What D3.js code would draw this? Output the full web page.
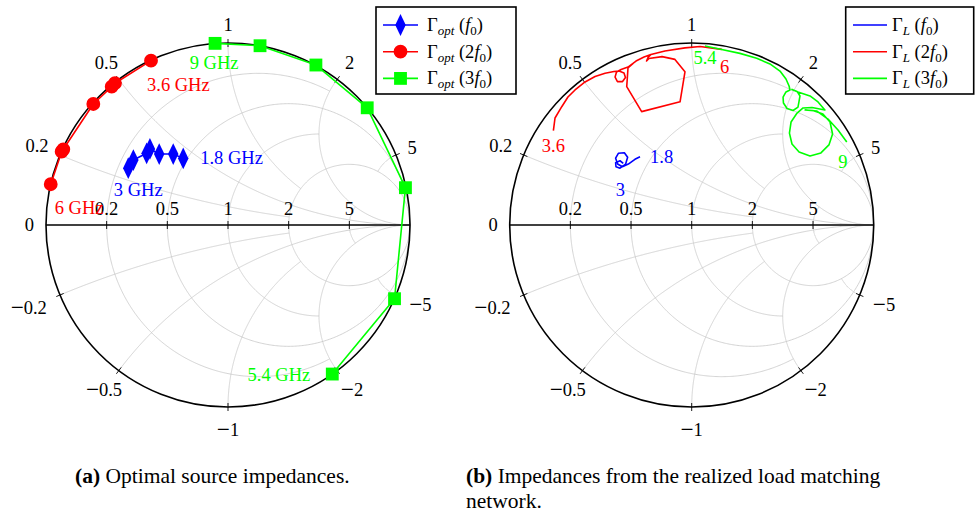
<!DOCTYPE html>
<html><head><meta charset="utf-8">
<script src="https://cdn.jsdelivr.net/npm/d3@7"></script>
<style>body{margin:0;background:#fff}svg{display:block}</style>
</head><body>
<svg id="c" width="977" height="512"></svg>
<script>
// ---------- grid definition ----------
const rTicks = [0.2, 0.5, 1, 2, 5];
const rTickLimit = [2, null, 2, null, 2];      // |x| where each r-circle stops (null = through infinity)
const xTicks = [0.2, 0.5, 1, 2, 5];
const xTickLimit = [2, null, 2, null, 2];      // r where each x-arc stops
const xTickLabels = ["0.2", "0.5", "1", "2", "5"];

// ---------- data (a) : reflection coefficients [re, im] ----------
const freqF0 = [1.8, 2.0, 2.2, 2.4, 2.6, 2.8, 3.0];
const gammaOptF0 = [[-0.246,0.366],[-0.301,0.390],[-0.378,0.390],[-0.429,0.418],[-0.447,0.394],[-0.520,0.357],[-0.548,0.312]];
const freq2F0 = [3.6, 4.0, 4.4, 4.8, 5.2, 5.6, 6.0];
const gammaOpt2F0 = [[-0.423,0.903],[-0.621,0.779],[-0.639,0.760],[-0.740,0.665],[-0.905,0.416],[-0.914,0.403],[-0.974,0.224]];
const freq3F0 = [5.4, 6.0, 6.6, 7.2, 7.8, 8.4, 9.0];
const gammaOpt3F0 = [[0.573,-0.819],[0.915,-0.405],[0.975,0.205],[0.765,0.644],[0.483,0.879],[0.176,0.985],[-0.071,0.998]];

// ---------- data (b) : load reflection coefficients [re, im] ----------
const gammaLF0 = [[-0.284,0.375],[-0.312,0.361],[-0.348,0.335],[-0.381,0.320],[-0.407,0.335],[-0.418,0.367],[-0.403,0.394],[-0.370,0.397],[-0.352,0.372],[-0.363,0.335],[-0.394,0.312],[-0.416,0.320],[-0.418,0.342],[-0.394,0.353],[-0.376,0.339]];
const gammaL2F0 = [[-0.760,0.518],[-0.751,0.588],[-0.714,0.650],[-0.680,0.703],[-0.641,0.742],[-0.586,0.786],[-0.531,0.816],[-0.476,0.834],[-0.427,0.843],
  [-0.399,0.846],[-0.372,0.835],[-0.364,0.810],[-0.380,0.788],[-0.408,0.788],[-0.421,0.813],[-0.413,0.841],[-0.388,0.854],
  [-0.350,0.868],[-0.306,0.901],[-0.262,0.923],[-0.224,0.937],[-0.240,0.920],[-0.248,0.901],[-0.235,0.915],
  [-0.163,0.925],[-0.092,0.910],[-0.037,0.842],[-0.064,0.677],[-0.275,0.623],[-0.357,0.760],[-0.350,0.863],
  [-0.306,0.901],[-0.262,0.923],[-0.224,0.937],[-0.147,0.956],[-0.037,0.973],[0.046,0.981],[0.165,0.965]];
const gammaL3F0 = [[0.073,0.984],[0.165,0.964],[0.265,0.943],[0.357,0.916],[0.430,0.885],[0.485,0.846],[0.518,0.802],[0.535,0.764],[0.540,0.742],
  [0.518,0.731],[0.502,0.703],[0.504,0.670],[0.524,0.640],[0.557,0.629],[0.584,0.648],[0.590,0.681],[0.595,0.709],[0.579,0.734],[0.551,0.745],
  [0.584,0.731],[0.650,0.709],[0.694,0.676],[0.732,0.632],[0.661,0.646],[0.612,0.643],
  [0.579,0.615],[0.546,0.566],[0.537,0.505],[0.551,0.445],[0.590,0.401],[0.650,0.379],[0.710,0.396],[0.754,0.440],[0.774,0.500],[0.760,0.566],[0.721,0.610],[0.666,0.629],[0.623,0.632],
  [0.688,0.626],[0.749,0.582],[0.804,0.522],[0.852,0.456]];

const BLUE = "#0000ff", RED = "#ff0000", GREEN = "#00ff00";
const FONT = "'Liberation Serif','Times New Roman',serif";
const FS = 18.5;

const svg = d3.select("#c");

function gam(a, b) { const d = (a + 1) * (a + 1) + b * b; return [(a * a - 1 + b * b) / d, 2 * b / d]; }

function measure(sel) { return sel.node().getBBox(); }

function smithChart(cx, cy, R) {
  const xs = d3.scaleLinear().domain([-1, 1]).range([cx - R, cx + R]);
  const ys = d3.scaleLinear().domain([-1, 1]).range([cy + R, cy - R]);
  const line = d3.line().x(d => xs(d[0])).y(d => ys(d[1]));
  const g = svg.append("g");
  const grid = g.append("g").attr("fill", "none").attr("stroke", "#c8c8c8").attr("stroke-width", 0.8);
  rTicks.forEach((r, i) => {
    const lim = rTickLimit[i];
    const pm = lim == null ? Math.PI / 2 - 1e-5 : Math.atan(lim);
    const pts = d3.range(0, 601).map(k => gam(r, Math.tan(-pm + 2 * pm * k / 600)));
    grid.append("path").attr("d", line(pts));
  });
  xTicks.forEach((x, i) => {
    const lim = xTickLimit[i];
    const pm = lim == null ? Math.PI / 2 - 1e-5 : Math.atan(lim);
    [x, -x].forEach(xx => {
      const pts = d3.range(0, 401).map(k => gam(Math.tan(pm * k / 400), xx));
      grid.append("path").attr("d", line(pts));
    });
  });
  // outer circle and real axis
  g.append("circle").attr("cx", xs(0)).attr("cy", ys(0)).attr("r", xs(1) - xs(0))
    .attr("fill", "none").attr("stroke", "#000").attr("stroke-width", 1.6);
  g.append("line").attr("x1", xs(-1)).attr("x2", xs(1)).attr("y1", ys(0)).attr("y2", ys(0))
    .attr("stroke", "#000").attr("stroke-width", 1.5);
  // real axis ticks and labels
  const lab = g.append("g").attr("font-family", FONT).attr("font-size", FS).attr("fill", "#000");
  rTicks.forEach((r, i) => {
    const gr = (r - 1) / (r + 1);
    g.append("line").attr("x1", xs(gr)).attr("x2", xs(gr)).attr("y1", ys(0) - 4).attr("y2", ys(0) + 4)
      .attr("stroke", "#000").attr("stroke-width", 0.9);
    lab.append("text").attr("x", xs(gr)).attr("y", ys(0) - 10).attr("text-anchor", "middle").text(xTickLabels[i]);
  });
  lab.append("text").attr("x", xs(-1) - 12).attr("y", ys(0) + 6).attr("text-anchor", "end").text("0");
  // reactance ticks and labels on the rim
  const capH = 0.66 * FS;
  xTicks.forEach((x, i) => {
    [x, -x].forEach(xx => {
      const p = gam(0, xx);
      const ux = p[0], uy = -p[1];
      const px = xs(p[0]), py = ys(p[1]);
      g.append("line").attr("x1", px - ux * 4).attr("y1", py - uy * 4).attr("x2", px + ux * 4).attr("y2", py + uy * 4)
        .attr("stroke", "#000").attr("stroke-width", 0.9);
      const t = lab.append("text").attr("text-anchor", "middle");
      if (xx < 0) t.append("tspan").attr("font-size", FS * 1.25).attr("dy", 1).text("\u2212");
      t.append("tspan").attr("dy", xx < 0 ? -1 : 0).text(xTickLabels[i]);
      const w = measure(t).width;
      const hw = w / 2 + 4, hh = capH / 2 + 4;
      const tt = Math.min(Math.abs(ux) > 1e-6 ? hw / Math.abs(ux) : 1e9, Math.abs(uy) > 1e-6 ? hh / Math.abs(uy) : 1e9);
      const d = tt + 8 + (uy > 0 ? 5 * uy : 0);
      t.attr("x", px + ux * d).attr("y", py + uy * d + capH / 2);
    });
  });
  return { g, xs, ys, line };
}

function markerTransform(m) { return m.type === d3.symbolDiamond ? " scale(1,1.2)" : ""; }

function drawSeries(ch, data, color, marker) {
  ch.g.append("path").attr("d", ch.line(data)).attr("fill", "none").attr("stroke", color)
    .attr("stroke-width", 1.6).attr("stroke-linejoin", "round");
  if (marker) {
    const sym = d3.symbol().type(marker.type).size(marker.size);
    ch.g.append("g").selectAll("path").data(data).join("path")
      .attr("transform", d => `translate(${ch.xs(d[0])},${ch.ys(d[1])})` + markerTransform(marker))
      .attr("d", sym).attr("fill", color);
  }
}

function annotate(ch, pt, text, color, dx, dy, anchor) {
  ch.g.append("text").attr("x", ch.xs(pt[0]) + dx).attr("y", ch.ys(pt[1]) + dy)
    .attr("text-anchor", anchor).attr("fill", color).attr("font-family", FONT).attr("font-size", FS).text(text);
}

function legend(x, y, w, h, entries, sub, lx1, lx2, tx) {
  const g = svg.append("g");
  g.append("rect").attr("x", x).attr("y", y).attr("width", w).attr("height", h)
    .attr("fill", "#fff").attr("stroke", "#000").attr("stroke-width", 1.6);
  entries.forEach((e, i) => {
    const cy = y + 18 + i * 26.7;
    g.append("line").attr("x1", lx1).attr("x2", lx2).attr("y1", cy).attr("y2", cy).attr("stroke", e.color).attr("stroke-width", 1.6);
    if (e.marker) {
      const sym = d3.symbol().type(e.marker.type).size(e.marker.size);
      g.append("path").attr("d", sym).attr("fill", e.color)
        .attr("transform", `translate(${(lx1 + lx2) / 2},${cy})` + markerTransform(e.marker));
    }
    const t = g.append("text").attr("x", tx).attr("y", cy + 6).attr("font-family", FONT).attr("font-size", FS);
    t.append("tspan").text("\u0393");
    t.append("tspan").attr("font-style", "italic").attr("font-size", 13).attr("dy", 4).text(sub);
    t.append("tspan").attr("dy", -4).text(" (" + e.mult);
    t.append("tspan").attr("font-style", "italic").text("f");
    t.append("tspan").attr("font-size", 13).attr("dy", 4).text("0");
    t.append("tspan").attr("dy", -4).text(")");
  });
}

const mDiamond = { type: d3.symbolDiamond, size: 95 };
const mCircle = { type: d3.symbolCircle, size: 150 };
const mSquare = { type: d3.symbolSquare, size: 165 };

// ---------- chart (a) ----------
const A = smithChart(228, 225, 182);
drawSeries(A, gammaOptF0, BLUE, mDiamond);
drawSeries(A, gammaOpt2F0, RED, mCircle);
drawSeries(A, gammaOpt3F0, GREEN, mSquare);
annotate(A, gammaOptF0[0], freqF0[0] + " GHz", BLUE, 17, 6, "start");
annotate(A, gammaOptF0[6], freqF0[6] + " GHz", BLUE, 10, 28, "middle");
annotate(A, gammaOpt2F0[0], freq2F0[0] + " GHz", RED, -4, 30, "start");
annotate(A, gammaOpt2F0[6], freq2F0[6] + " GHz", RED, 4, 30, "start");
annotate(A, gammaOpt3F0[6], freq3F0[6] + " GHz", GREEN, -1, 26, "middle");
annotate(A, gammaOpt3F0[0], freq3F0[0] + " GHz", GREEN, -22, 7, "end");
legend(376, 7, 140, 87, [
  { color: BLUE, mult: "", marker: mDiamond },
  { color: RED, mult: "2", marker: mCircle },
  { color: GREEN, mult: "3", marker: mSquare }], "opt", 383, 418, 427);

// ---------- chart (b) ----------
const B = smithChart(691.7, 225, 182);
drawSeries(B, gammaLF0, BLUE, null);
drawSeries(B, gammaL2F0, RED, null);
drawSeries(B, gammaL3F0, GREEN, null);
annotate(B, gammaLF0[0], "1.8", BLUE, 10, 6, "start");
annotate(B, gammaLF0[gammaLF0.length - 1], "3", BLUE, -3, 33, "middle");
annotate(B, gammaL2F0[0], "3.6", RED, 0, 21, "middle");
annotate(B, gammaL2F0[gammaL2F0.length - 1], "6", RED, 3, 24, "middle");
annotate(B, gammaL3F0[0], "5.4", GREEN, 0, 18, "middle");
annotate(B, gammaL3F0[gammaL3F0.length - 1], "9", GREEN, -4, 26, "middle");
legend(845.7, 7, 128, 87, [
  { color: BLUE, mult: "" }, { color: RED, mult: "2" }, { color: GREEN, mult: "3" }], "L", 853, 887, 892);

// ---------- captions ----------
const cap = svg.append("g").attr("font-family", FONT).attr("fill", "#000").attr("font-size", 21.5);
const c1 = cap.append("text").attr("x", 75).attr("y", 483);
c1.append("tspan").attr("font-weight", "bold").text("(a)");
c1.append("tspan").text(" Optimal source impedances.");
const c2 = cap.append("text").attr("x", 466).attr("y", 483);
c2.append("tspan").attr("font-weight", "bold").text("(b)");
c2.append("tspan").text(" Impedances from the realized load matching");
cap.append("text").attr("x", 466).attr("y", 507.5).text("network.");
</script>
</body></html>
